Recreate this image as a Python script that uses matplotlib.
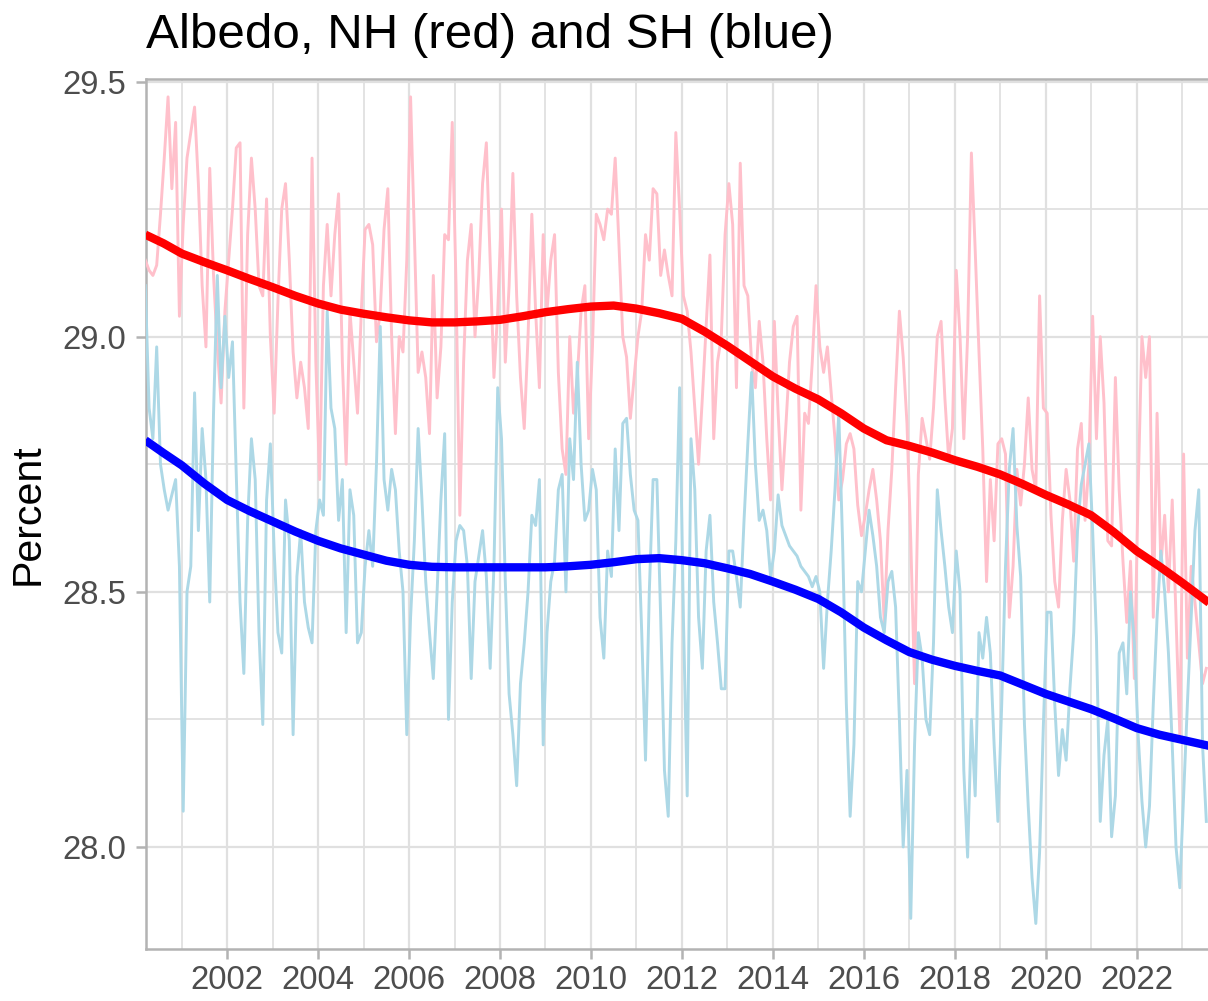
import numpy as np
import matplotlib
matplotlib.use("Agg")
import matplotlib.pyplot as plt
from matplotlib.ticker import FixedLocator, FuncFormatter

# ---------------- data (monthly, starting March 2000) ----------------
start_year = 2000.2
nh = [
    29.15, 29.13, 29.12, 29.14, 29.24, 29.35, 29.47, 29.29, 29.42, 29.04, 29.22, 29.35,
    29.40, 29.45, 29.30, 29.10, 28.98, 29.33, 29.12, 28.98, 28.87, 29.05, 29.15, 29.25,
    29.37, 29.38, 28.86, 29.20, 29.35, 29.25, 29.10, 29.08, 29.27, 29.00, 28.85, 29.07,
    29.25, 29.30, 29.15, 28.97, 28.88, 28.95, 28.90, 28.82, 29.35, 28.95, 28.72, 29.10,
    29.22, 29.08, 29.20, 29.28, 28.95, 28.75, 29.05, 28.95, 28.85, 29.05, 29.21, 29.22,
    29.18, 28.99, 29.05, 29.21, 29.29, 29.00, 28.81, 29.00, 28.97, 29.15, 29.47, 29.20,
    28.93, 28.97, 28.92, 28.81, 29.12, 28.88, 28.98, 29.20, 29.19, 29.42, 29.10, 28.65,
    28.95, 29.15, 29.22, 29.00, 29.12, 29.30, 29.38, 29.15, 28.92, 29.05, 29.25, 28.95,
    29.10, 29.32, 29.08, 28.92, 28.82, 29.00, 29.24, 29.05, 28.90, 29.20, 29.05, 29.15,
    29.20, 28.93, 28.78, 28.73, 29.00, 28.85, 28.92, 29.05, 29.10, 28.80, 28.98, 29.24,
    29.22, 29.19, 29.25, 29.24, 29.35, 29.18, 29.00, 28.96, 28.84, 28.92, 29.00, 29.05,
    29.20, 29.15, 29.29, 29.28, 29.12, 29.17, 29.12, 29.08, 29.40, 29.25, 29.08, 29.05,
    28.97, 28.86, 28.75, 28.88, 29.02, 29.16, 28.80, 28.95, 29.00, 29.20, 29.30, 29.22,
    28.90, 29.34, 29.10, 29.08, 28.95, 28.90, 29.03, 28.95, 28.80, 28.68, 29.03, 28.85,
    28.70, 28.82, 28.95, 29.02, 29.04, 28.66, 28.85, 28.83, 28.95, 29.10, 28.98, 28.93,
    28.98, 28.89, 28.80, 28.68, 28.72, 28.79, 28.81, 28.78, 28.67, 28.61, 28.65, 28.70,
    28.74, 28.68, 28.60, 28.44, 28.62, 28.74, 28.90, 29.05, 28.96, 28.83, 28.60, 28.32,
    28.73, 28.84, 28.80, 28.76, 28.86, 29.00, 29.03, 28.88, 28.76, 28.82, 29.13, 29.00,
    28.80, 29.00, 29.36, 29.17, 28.97, 28.78, 28.52, 28.72, 28.60, 28.79, 28.80, 28.77,
    28.45, 28.55, 28.74, 28.67, 28.75, 28.88, 28.74, 28.70, 29.08, 28.86, 28.85, 28.65,
    28.52, 28.47, 28.64, 28.74, 28.68, 28.56, 28.78, 28.83, 28.64, 28.75, 29.04, 28.80,
    29.00, 28.87, 28.60, 28.59, 28.92, 28.70, 28.56, 28.44, 28.56, 28.33, 28.70, 29.00,
    28.92, 29.00, 28.45, 28.85, 28.55, 28.65, 28.50, 28.68, 28.45, 28.22, 28.77, 28.37,
    28.55, 28.48, 28.40, 28.32, 28.35,
]
sh = [
    29.10, 28.86, 28.80, 28.98, 28.75, 28.70, 28.66, 28.69, 28.72, 28.55, 28.07, 28.50,
    28.55, 28.89, 28.62, 28.82, 28.72, 28.48, 28.85, 29.12, 28.90, 29.04, 28.92, 28.99,
    28.73, 28.48, 28.34, 28.64, 28.80, 28.72, 28.42, 28.24, 28.68, 28.79, 28.58, 28.42,
    28.38, 28.68, 28.60, 28.22, 28.53, 28.62, 28.48, 28.43, 28.40, 28.62, 28.68, 28.65,
    29.05, 28.86, 28.82, 28.64, 28.72, 28.42, 28.70, 28.65, 28.40, 28.42, 28.55, 28.62,
    28.55, 28.75, 29.02, 28.72, 28.66, 28.74, 28.70, 28.58, 28.50, 28.22, 28.45, 28.60,
    28.82, 28.68, 28.52, 28.42, 28.33, 28.50, 28.68, 28.81, 28.25, 28.48, 28.60, 28.63,
    28.62, 28.55, 28.33, 28.52, 28.57, 28.62, 28.53, 28.35, 28.55, 28.90, 28.80, 28.52,
    28.30, 28.22, 28.12, 28.32, 28.40, 28.50, 28.65, 28.63, 28.72, 28.20, 28.42, 28.52,
    28.56, 28.70, 28.73, 28.50, 28.80, 28.72, 28.95, 28.75, 28.64, 28.66, 28.74, 28.70,
    28.45, 28.37, 28.58, 28.53, 28.78, 28.62, 28.83, 28.84, 28.73, 28.66, 28.64, 28.42,
    28.17, 28.50, 28.72, 28.72, 28.45, 28.15, 28.06, 28.40, 28.60, 28.90, 28.45, 28.10,
    28.80, 28.70, 28.45, 28.35, 28.58, 28.65, 28.48, 28.40, 28.31, 28.31, 28.58, 28.58,
    28.53, 28.47, 28.64, 28.79, 28.93, 28.75, 28.64, 28.66, 28.62, 28.53, 28.58, 28.69,
    28.63, 28.61, 28.59, 28.58, 28.57, 28.55, 28.54, 28.53, 28.51, 28.53, 28.50, 28.35,
    28.48, 28.58, 28.70, 28.85, 28.60, 28.28, 28.06, 28.20, 28.52, 28.50, 28.58, 28.66,
    28.61, 28.55, 28.45, 28.42, 28.52, 28.54, 28.47, 28.25, 28.00, 28.15, 27.86, 28.20,
    28.42, 28.37, 28.25, 28.22, 28.40, 28.70, 28.62, 28.55, 28.47, 28.42, 28.58, 28.50,
    28.15, 27.98, 28.25, 28.10, 28.42, 28.37, 28.45, 28.38, 28.20, 28.05, 28.28, 28.55,
    28.74, 28.82, 28.63, 28.53, 28.24, 28.08, 27.94, 27.85, 27.99, 28.24, 28.46, 28.46,
    28.28, 28.14, 28.23, 28.17, 28.31, 28.42, 28.62, 28.71, 28.75, 28.79, 28.62, 28.41,
    28.05, 28.18, 28.25, 28.02, 28.10, 28.38, 28.40, 28.30, 28.50, 28.40, 28.22, 28.09,
    28.00, 28.08, 28.28, 28.45, 28.58, 28.50, 28.38, 28.20, 28.00, 27.92, 28.10, 28.28,
    28.45, 28.62, 28.70, 28.20, 28.05,
]

# smoothed trend curves
trend_years = [2000.2, 2000.6, 2001.0, 2001.5, 2002.0, 2002.5, 2003.0, 2003.5, 2004.0, 2004.5,
               2005.0, 2005.5, 2006.0, 2006.5, 2007.0, 2007.5, 2008.0, 2008.5, 2009.0, 2009.5,
               2010.0, 2010.5, 2011.0, 2011.5, 2012.0, 2012.5, 2013.0, 2013.5, 2014.0, 2014.5,
               2015.0, 2015.5, 2016.0, 2016.5, 2017.0, 2017.5, 2018.0, 2018.5, 2019.0, 2019.5,
               2020.0, 2020.5, 2021.0, 2021.5, 2022.0, 2022.5, 2023.0, 2023.6]
nh_trend = [29.200, 29.183, 29.163, 29.146, 29.130, 29.113, 29.097, 29.080, 29.065, 29.053,
            29.045, 29.038, 29.032, 29.028, 29.028, 29.030, 29.033, 29.040, 29.048, 29.054,
            29.059, 29.061, 29.055, 29.046, 29.035, 29.010, 28.982, 28.952, 28.922, 28.898,
            28.877, 28.850, 28.820, 28.797, 28.786, 28.773, 28.758, 28.745, 28.730, 28.711,
            28.690, 28.671, 28.650, 28.617, 28.580, 28.550, 28.518, 28.478]
sh_trend = [28.797, 28.772, 28.748, 28.712, 28.680, 28.658, 28.638, 28.618, 28.600, 28.585,
            28.573, 28.561, 28.553, 28.549, 28.548, 28.548, 28.548, 28.548, 28.548, 28.550,
            28.553, 28.558, 28.564, 28.566, 28.562, 28.556, 28.546, 28.535, 28.520, 28.504,
            28.486, 28.460, 28.430, 28.405, 28.382, 28.367, 28.355, 28.345, 28.336, 28.318,
            28.300, 28.285, 28.270, 28.252, 28.233, 28.220, 28.210, 28.198]

x_major = [2002, 2004, 2006, 2008, 2010, 2012, 2014, 2016, 2018, 2020, 2022]
x_minor = [2001, 2003, 2005, 2007, 2009, 2011, 2013, 2015, 2017, 2019, 2021, 2023]
y_major = [28.0, 28.5, 29.0, 29.5]
y_minor = [28.25, 28.75, 29.25]

title = "Albedo, NH (red) and SH (blue)"
ylabel = "Percent"

# ---------------- figure ----------------
plt.rcParams['font.family'] = ['Liberation Sans', 'DejaVu Sans']
W, H = 1208, 1001
fig = plt.figure(figsize=(W / 100, H / 100), dpi=100)
left, right, top, bottom = 146, 1208, 79, 949
ax = fig.add_axes([left / W, 1 - bottom / H, (right - left) / W, (bottom - top) / H])

t_nh = start_year + np.arange(len(nh)) / 12.0
t_sh = start_year + np.arange(len(sh)) / 12.0

ax.plot(t_nh, nh, color='#FFC0CB', lw=2.1, zorder=3)
ax.plot(t_sh, sh, color='#ADD8E6', lw=2.1, zorder=4)
ax.plot(trend_years, nh_trend, color='#FF0000', lw=6.0, zorder=5, solid_capstyle='butt')
ax.plot(trend_years, sh_trend, color='#0000FF', lw=6.0, zorder=6, solid_capstyle='butt')

ax.set_xlim(2000.215, 2023.57)
ax.set_ylim(27.80, 29.505)

ax.xaxis.set_major_locator(FixedLocator(x_major))
ax.xaxis.set_minor_locator(FixedLocator(x_minor))
ax.yaxis.set_major_locator(FixedLocator(y_major))
ax.yaxis.set_minor_locator(FixedLocator(y_minor))
ax.xaxis.set_major_formatter(FuncFormatter(lambda v, p: f"{int(round(v))}"))
ax.yaxis.set_major_formatter(FuncFormatter(lambda v, p: f"{v:.1f}"))

grid_c = '#E0E0E0'
ax.grid(which='major', color=grid_c, lw=1.6, zorder=0)
ax.grid(which='minor', color=grid_c, lw=1.3, zorder=0)
ax.set_axisbelow(True)

for s in ['left', 'bottom', 'top']:
    ax.spines[s].set_color('#B3B3B3')
    ax.spines[s].set_linewidth(1.8)
ax.spines['right'].set_visible(False)

ax.tick_params(axis='both', which='major', color='#B3B3B3', width=1.8, length=7.5,
               labelsize=23.7, labelcolor='#4D4D4D')
ax.tick_params(axis='x', which='major', pad=4)
ax.tick_params(axis='y', which='major', pad=6.5)
ax.tick_params(which='minor', length=0)

fig.text(left / W, 1 - 48.5 / H, title, fontsize=35.5, color='black',
         ha='left', va='baseline')
fig.text(28 / W, 1 - 514 / H, ylabel, fontsize=29.6, color='black',
         rotation=90, ha='center', va='center')

fig.savefig('out.png', dpi=100)
